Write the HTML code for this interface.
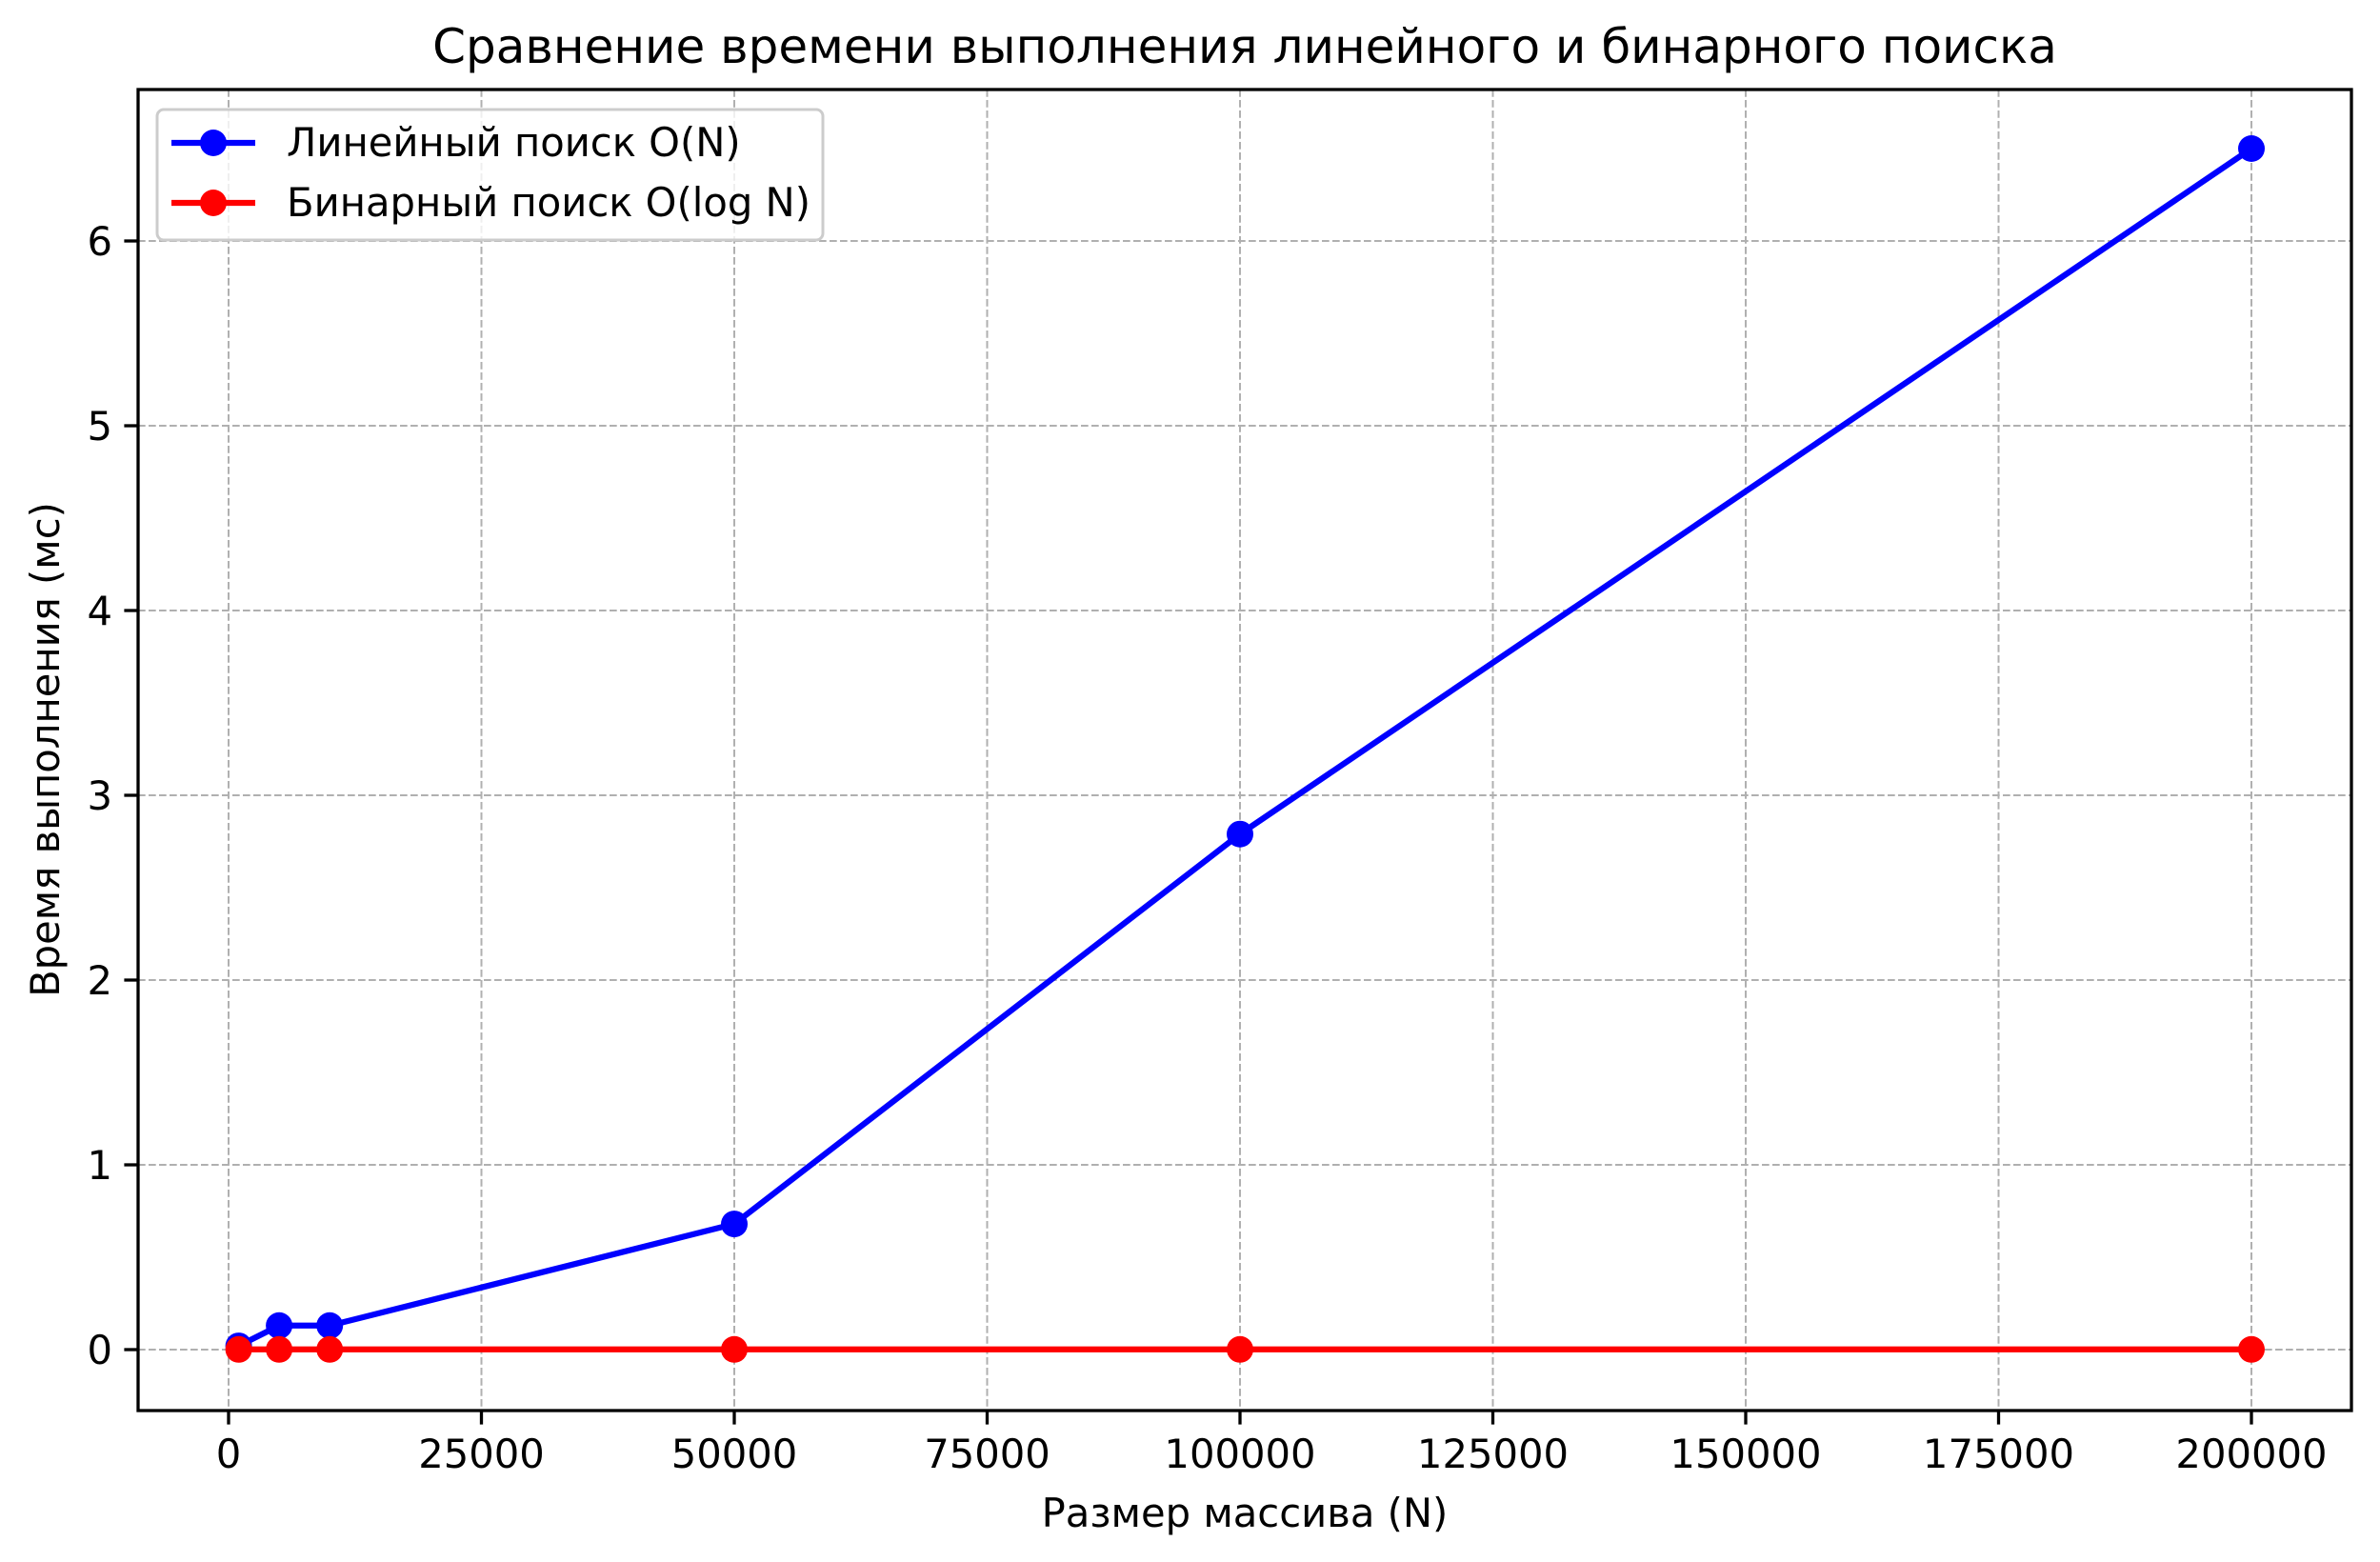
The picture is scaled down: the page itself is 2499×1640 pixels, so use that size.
<!DOCTYPE html>
<html><head><meta charset="utf-8"><style>
html,body{margin:0;padding:0;background:#fff;}
svg{display:block;font-family:"DejaVu Sans","Liberation Sans",sans-serif;}
</style></head><body>
<svg id="chart" width="2499" height="1640" viewBox="0 0 2499 1640" xmlns="http://www.w3.org/2000/svg">
<rect width="2499" height="1640" fill="#fff"/>
<text x="1307" y="66" font-size="50" text-anchor="middle">Сравнение времени выполнения линейного и бинарного поиска</text>
<g id="grid"></g>
<g id="axes"></g>
<g id="series"></g>
<text x="1307" y="1603" font-size="41.7" text-anchor="middle">Размер массива (N)</text>
<text transform="translate(62,787) rotate(-90)" font-size="41.7" text-anchor="middle">Время выполнения (мс)</text>
<g id="legend">
<rect x="165" y="115" width="699" height="137" rx="7" fill="#fff" fill-opacity="0.8" stroke="#ccc" stroke-width="3"/>
<g>
<line x1="180" y1="150" x2="268" y2="150" stroke="#0000ff" stroke-width="6.25"/>
<circle cx="224" cy="150" r="14" fill="#0000ff"/>
<text x="301" y="164" font-size="41.7">Линейный поиск O(N)</text>
</g>
<g>
<line x1="180" y1="213" x2="268" y2="213" stroke="#ff0000" stroke-width="6.25"/>
<circle cx="224" cy="213" r="14" fill="#ff0000"/>
<text x="301" y="227" font-size="41.7">Бинарный поиск O(log N)</text>
</g>
</g>
</svg>
<script>
const sizes = [1000, 5000, 10000, 50000, 100000, 200000];
const linearTimes = [0.02, 0.13, 0.13, 0.68, 2.79, 6.5];
const binaryTimes = [0.001, 0.001, 0.001, 0.001, 0.001, 0.001];
const xTicks = [0, 25000, 50000, 75000, 100000, 125000, 150000, 175000, 200000];
const yTicks = [0, 1, 2, 3, 4, 5, 6];

const L = 145, R = 2469, T = 94, B = 1481;
function xs(v){ return 240 + v * (2364 - 240) / 200000; }
function ys(v){ return 1417 - v * (1417 - 253) / 6; }
const NS = 'http://www.w3.org/2000/svg';
function mk(tag, attrs, parent){
  const e = document.createElementNS(NS, tag);
  for (const k in attrs) e.setAttribute(k, attrs[k]);
  parent.appendChild(e); return e;
}
const grid = document.getElementById('grid');
const axes = document.getElementById('axes');
const series = document.getElementById('series');

xTicks.forEach(t => {
  const x = xs(t);
  const g = mk('line', {x1:x, y1:T, x2:x, y2:B, stroke:'#b0b0b0', 'stroke-width':2, 'stroke-dasharray':'7.7,3.3'}, grid);
  
  
  const tk = mk('line', {x1:x, y1:B, x2:x, y2:B+14.6, stroke:'#000', 'stroke-width':3.3}, axes);
  
  
  const lb = mk('text', {x:x, y:B+60, 'font-size':41.7, 'text-anchor':'middle'}, axes);
  lb.textContent = String(t);
  
  
});
yTicks.forEach(t => {
  const y = ys(t);
  const g = mk('line', {x1:L, y1:y, x2:R, y2:y, stroke:'#b0b0b0', 'stroke-width':2, 'stroke-dasharray':'7.7,3.3'}, grid);
  
  
  const tk = mk('line', {x1:L-14.6, y1:y, x2:L, y2:y, stroke:'#000', 'stroke-width':3.3}, axes);
  
  
  const lb = mk('text', {x:L-27, y:y+15, 'font-size':41.7, 'text-anchor':'end'}, axes);
  lb.textContent = String(t);
  
  
});
const frame = mk('rect', {x:L, y:T, width:R-L, height:B-T, fill:'none', stroke:'#000', 'stroke-width':3.3}, axes);



function drawSeries(vals, color, name){
  const pts = sizes.map((s,i) => xs(s) + ',' + ys(vals[i])).join(' ');
  const pl = mk('polyline', {points:pts, fill:'none', stroke:color, 'stroke-width':6.25, 'stroke-linejoin':'round'}, series);
  
  
  sizes.forEach((s,i) => {
    const c = mk('circle', {cx:xs(s), cy:ys(vals[i]), r:14, fill:color}, series);
    
    
  });
}
drawSeries(linearTimes, '#0000ff', 'linear-search');
drawSeries(binaryTimes, '#ff0000', 'binary-search');
</script>
</body></html>
